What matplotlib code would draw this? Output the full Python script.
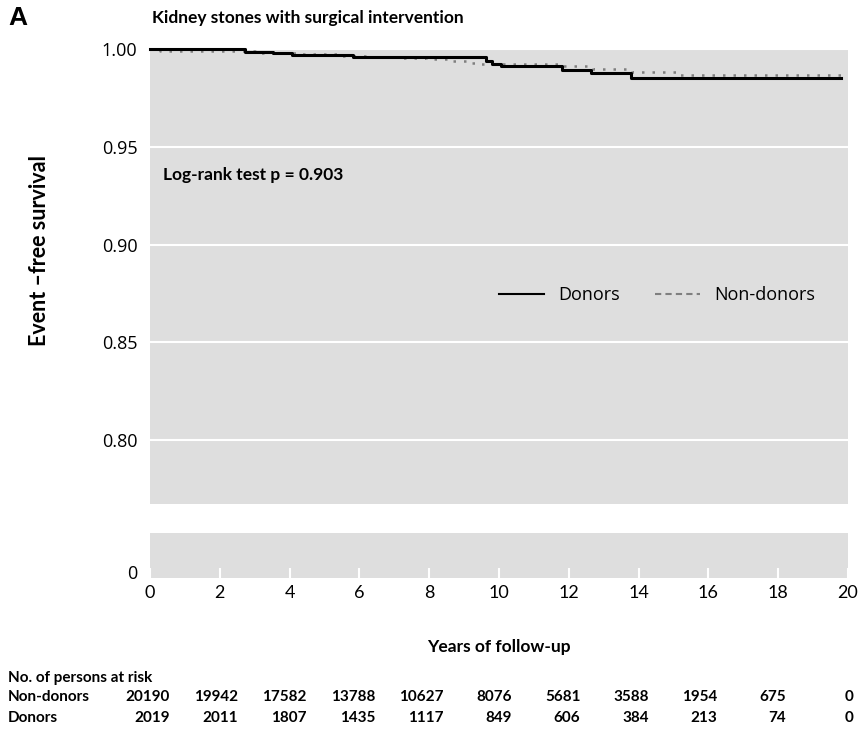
import matplotlib
matplotlib.use("Agg")
import matplotlib.pyplot as plt
from matplotlib.lines import Line2D

plt.rcParams["font.family"] = ["Lato", "DejaVu Sans"]

# --- data ---
donor_t = [0.0, 2.72, 3.52, 4.07, 5.82, 9.64, 9.80, 10.06, 11.81, 12.64, 13.78, 19.8]
donor_s = [1.0000, 0.99853, 0.99771, 0.99685, 0.99568, 0.99405, 0.99252, 0.99110,
           0.98937, 0.98784, 0.98530, 0.98530]
nondonor_t = [0.0, 0.3, 3.0, 4.2, 5.5, 6.4, 7.2, 7.9, 8.5, 9.1, 9.4, 11.83, 12.7,
              13.8, 15.2, 19.8]
nondonor_s = [1.0000, 0.99880, 0.99800, 0.99720, 0.99620, 0.99568, 0.99517, 0.99466,
              0.99380, 0.99293, 0.99215, 0.99110, 0.98957, 0.98820, 0.98683, 0.98683]

years = [0, 2, 4, 6, 8, 10, 12, 14, 16, 18, 20]
risk_nondonors = [20190, 19942, 17582, 13788, 10627, 8076, 5681, 3588, 1954, 675, 0]
risk_donors = [2019, 2011, 1807, 1435, 1117, 849, 606, 384, 213, 74, 0]
main_yticks = [0.80, 0.85, 0.90, 0.95, 1.00]

W, H = 862, 731
BG = "#dedede"
fig = plt.figure(figsize=(W / 100, H / 100), dpi=100)

def fx(px):
    return px / W

def fy(py):
    return 1 - py / H

ax = fig.add_axes([fx(150), fy(504), fx(848 - 150), (504 - 49) / H])
axb = fig.add_axes([fx(150), fy(578), fx(848 - 150), (578 - 533) / H])

for a in (ax, axb):
    a.set_facecolor(BG)
    for sp in a.spines.values():
        sp.set_visible(False)
    a.set_xlim(0, 20)

ax.step(nondonor_t, nondonor_s, where="post", color="#7f7f7f", lw=1.8,
        ls=(0, (1, 3.2)), clip_on=False)
ax.step(donor_t, donor_s, where="post", color="black", lw=2.2, clip_on=False)

ax.set_ylim(0.76745, 0.99888)
ax.set_yticks(main_yticks)
ax.set_yticklabels([f"{v:.2f}" for v in main_yticks], fontsize=13,
                   family=["Open Sans", "DejaVu Sans"])
ax.tick_params(axis="y", length=0, pad=9)
ax.set_xticks([])
ax.grid(axis="y", color="white", lw=1.5)
ax.set_axisbelow(True)

ax.text(0.37, 0.9358, "Log-rank test p = 0.903", fontsize=12.5, fontweight="bold",
        ha="left", va="center")

# legend
handles = [Line2D([], [], color="black", lw=1.5),
           Line2D([], [], color="#7f7f7f", lw=1.5, ls=(0, (3, 2)))]
ax.legend(handles, ["Donors", "Non-donors"], loc="center", ncol=2, frameon=False,
          bbox_to_anchor=(0.7265, 0.4595), handlelength=2.5,
          handletextpad=0.8, columnspacing=1.9,
          prop={"family": ["Open Sans", "DejaVu Sans"], "size": 13})

axb.set_ylim(-0.133, 0.867)
axb.set_yticks([0])
axb.set_yticklabels(["0"], fontsize=13, family=["Open Sans", "DejaVu Sans"])
axb.tick_params(axis="y", length=0, pad=9)
axb.set_xticks(years)
axb.set_xticklabels([str(y) for y in years], fontsize=13)
axb.tick_params(axis="x", direction="in", color="white", length=7, width=1.5, pad=5)

# titles and labels
fig.text(fx(8), fy(18), "A", fontsize=19, fontweight="bold", ha="left", va="center",
         family=["Liberation Sans", "DejaVu Sans"])
fig.text(fx(152), fy(18), "Kidney stones with surgical intervention", fontsize=12.5,
         fontweight="bold", ha="left", va="center")
fig.text(fx(40), fy(251), "Event \u2013free survival", fontsize=15.5, fontweight="bold",
         rotation=90, ha="center", va="center")
fig.text(fx(499), fy(647), "Years of follow-up", fontsize=12.5, fontweight="bold",
         ha="center", va="center")

# numbers at risk table
fig.text(fx(8), fy(678), "No. of persons at risk", fontsize=11, fontweight="bold",
         ha="left", va="center")
for label, row, py in (("Non-donors", risk_nondonors, 697), ("Donors", risk_donors, 718)):
    fig.text(fx(8), fy(py), label, fontsize=11, fontweight="bold", ha="left", va="center")
    for i, n in enumerate(row):
        fig.text(fx(170 + 68.4 * i), fy(py), str(n), fontsize=11, fontweight="bold",
                 ha="right", va="center")

fig.savefig("out.png", dpi=100, facecolor="white")
